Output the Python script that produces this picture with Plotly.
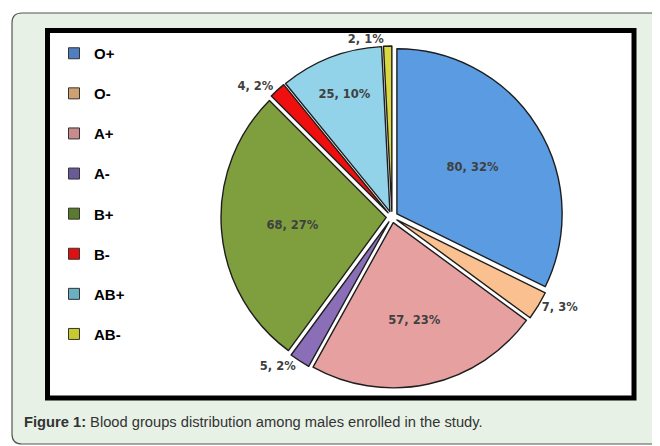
import plotly.graph_objects as go

groups = ["O+", "O-", "A+", "A-", "B+", "B-", "AB+", "AB-"]
counts = [80, 7, 57, 5, 68, 4, 25, 2]
colors = ["#5b9be2", "#fac08f", "#e6a0a0", "#8a6fb8", "#7f9f3f", "#f00f0f", "#93d3e9", "#d9d93f"]
legend_colors = ["#4f7fc0", "#d0a070", "#c88a8a", "#6a5a98", "#5a7a30", "#e01010", "#6ab0c4", "#c8c830"]
label_pos = ["inside", "outside", "inside", "outside", "inside", "outside", "inside", "outside"]
caption_bold = "Figure 1:"
caption_text = "Blood groups distribution among males enrolled in the study."

# the page body adds an 8px margin; the figure is sized/positioned to compensate
OFF = 8
W, H = 660 - OFF, 446 - OFF
def px(x):
    return (x - OFF) / W
def py(y):
    return 1 - (y - OFF) / H

fig = go.Figure()

fig.add_trace(go.Pie(
    labels=groups, values=counts, sort=False, direction="clockwise", rotation=0,
    marker=dict(colors=colors, line=dict(color="#1e1e1e", width=1.4)),
    pull=[0.035] * len(counts),
    textposition=label_pos,
    texttemplate="%{value}, %{percent:.0%}",
    textfont=dict(family="DejaVu Sans", size=11.5, color="#404040", weight="bold"),
    insidetextorientation="horizontal",
    domain=dict(x=[px(392 - 172), px(392 + 172)], y=[py(388), py(46)]),
    showlegend=False, hoverinfo="label+value+percent",
))

for g, c in zip(groups, legend_colors):
    fig.add_trace(go.Scatter(
        x=[None], y=[None], mode="markers", name=g, legendgroup=g,
        marker=dict(symbol="square", size=11, color=c, line=dict(color="#333333", width=1)),
    ))

# outer rounded panel
r = 10
x0, x1, y0, y1 = 12, 700, 13, 444
path = (f"M {px(x0+r)},{py(y0)} L {px(x1)},{py(y0)} L {px(x1)},{py(y1)} L {px(x0+r)},{py(y1)} "
        f"Q {px(x0)},{py(y1)} {px(x0)},{py(y1-r)} L {px(x0)},{py(y0+r)} "
        f"Q {px(x0)},{py(y0)} {px(x0+r)},{py(y0)} Z")

shapes = [
    dict(type="path", xref="paper", yref="paper", path=path,
         fillcolor="#e7f1e6", line=dict(color="#555555", width=1.2), layer="below"),
    dict(type="rect", xref="paper", yref="paper", x0=px(47.5), x1=px(634), y0=py(398), y1=py(30.5),
         fillcolor="white", line=dict(color="black", width=5), layer="below"),
]

fig.update_layout(
    width=W, height=H, margin=dict(l=0, r=0, t=0, b=0),
    paper_bgcolor="white", plot_bgcolor="rgba(0,0,0,0)",
    xaxis=dict(visible=False), yaxis=dict(visible=False),
    shapes=shapes,
    showlegend=True,
    legend=dict(x=px(54), y=py(37), xanchor="left", yanchor="top",
                bgcolor="rgba(0,0,0,0)", tracegroupgap=17.6, itemwidth=30,
                font=dict(family="Liberation Sans", size=15, color="black", weight="bold")),
    annotations=[dict(
        xref="paper", yref="paper", x=px(22), y=py(422), xanchor="left", yanchor="middle",
        text=f"<b>{caption_bold}</b> {caption_text}", showarrow=False,
        font=dict(family="Liberation Sans", size=14.7, color="#333333"),
    )],
)

fig.write_html("out.html")
